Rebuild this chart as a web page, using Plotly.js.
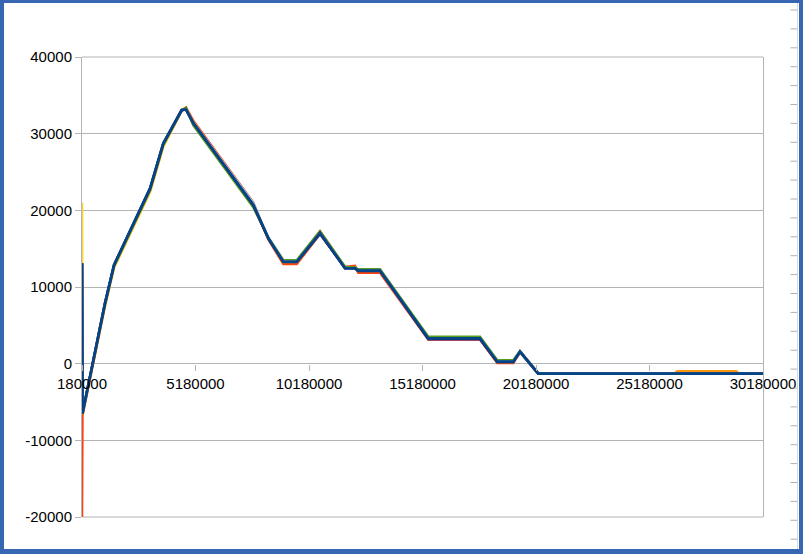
<!DOCTYPE html>
<html>
<head>
<meta charset="utf-8">
<script src="https://cdn.plot.ly/plotly-3.0.1.min.js"></script>
<style>
  html, body { margin: 0; padding: 0; background: #fff; }
  #wrap { position: relative; width: 803px; height: 554px; overflow: hidden; }
  #chart { position: absolute; left: 0; top: 0; width: 803px; height: 554px; }
  #frame { position: absolute; left: 0; top: 0; width: 803px; height: 554px; box-sizing: border-box;
           border-style: solid; border-color: #3767b3; border-width: 3px 4px 5px 4px; pointer-events: none; }
</style>
</head>
<body>
<div id="wrap"><div id="chart"></div><div id="frame"></div></div>
<script>
// ---- data ----
const xVals = [180000, 200000, 1193000, 1590000, 3180000, 3760000, 4570000, 4760000, 5080000,
  7726000, 8390000, 9050000, 9640000, 10665000, 11766000, 12206000, 12350000, 13308000,
  15435000, 17713000, 18475000, 19180000, 19475000, 20280000, 26300000, 26400000, 29000000,
  29100000, 30180000];

const redY = [-20000, -6800, 7600, 12600, 22600, 28400, 33000, 33400, 31700, 21000, 16200, 13000,
  13000, 16900, 12600, 12750, 11850, 11850, 3150, 3150, 100, 100, 1500, -1300, -1300, -1300, -1300, -1300, -1300];
const orangeY = [13100, -6600, 7800, 12800, 22800, 28700, 33100, 33300, 31500, 20800, 16300, 13200,
  13200, 17000, 12500, 12550, 12050, 12050, 3250, 3250, 200, 200, 1550, -1250, -1250, -1000, -1000, -1250, -1250];
const yellowY = [21000, -6600, 7500, 12500, 22400, 28300, 33000, 33200, 31300, 20600, 16300, 13300,
  13300, 17100, 12500, 12450, 12150, 12150, 3300, 3300, 250, 250, 1550, -1300, -1300, -1300, -1300, -1300, -1300];
const greenY = [13000, -6600, 7700, 12700, 22600, 28500, 33000, 33400, 31100, 20400, 16450, 13500,
  13500, 17300, 12650, 12550, 12300, 12300, 3500, 3500, 450, 450, 1650, -1300, -1300, -1300, -1300, -1300, -1300];
const maroonY = [13100, -6500, 7900, 12850, 22850, 28700, 33100, 33200, 31400, 20700, 16300, 13250,
  13250, 17100, 12450, 12450, 12100, 12100, 3300, 3300, 250, 250, 1560, -1300, -1300, -1300, -1300, -1300, -1300];
const lightBlueY = [13100, -6500, 7900, 12870, 22900, 28750, 33100, 33150, 31450, 20950, 16400, 13300,
  13300, 17000, 12450, 12450, 12130, 12130, 3300, 3300, 260, 260, 1570, -1300, -1300, -1300, -1300, -1300, -1300];
const purpleY = [13100, -6500, 7850, 12850, 22850, 28700, 33050, 33150, 31400, 20700, 16350, 13250,
  13250, 16950, 12450, 12450, 12100, 12100, 3200, 3200, 200, 200, 1550, -1300, -1300, -1300, -1300, -1300, -1300];
const navyY = [13100, -6500, 7900, 12870, 22900, 28750, 33100, 33150, 31400, 20700, 16350, 13300,
  13300, 17000, 12450, 12450, 12130, 12130, 3300, 3300, 260, 260, 1570, -1300, -1300, -1300, -1300, -1300, -1300];

const yTickVals = [-20000, -10000, 0, 10000, 20000, 30000, 40000];
const yTickLabels = ["-20000", "-10000", "0", "10000", "20000", "30000", "40000"];
const xTickVals = [180000, 5180000, 10180000, 15180000, 20180000, 25180000, 30180000];
const xTickLabels = ["180000", "5180000", "10180000", "15180000", "20180000", "25180000", "30180000"];

const seriesList = [
  {name: "Series 2", y: redY, color: "#ff420e", width: 2.5},
  {name: "Series 10", y: orangeY, color: "#ff950e", width: 2.5},
  {name: "Series 3", y: yellowY, color: "#ffd320", width: 2.5},
  {name: "Series 4", y: greenY, color: "#579d1c", width: 2.5},
  {name: "Series 5", y: maroonY, color: "#7e0021", width: 2.5},
  {name: "Series 6", y: lightBlueY, color: "#83caff", width: 2.5},
  {name: "Series 9", y: purpleY, color: "#4b1f6f", width: 2.5},
  {name: "Series 1", y: navyY, color: "#004586", width: 2.6}
];

const traces = seriesList.map(s => ({
  type: "scatter", mode: "lines", name: s.name, x: xVals, y: s.y,
  line: {color: s.color, width: s.width}, hoverinfo: "skip"
}));

// ---- layout ----
const W = 803, H = 554, L = 82, R = 40, T = 57, B = 37;
const pw = W - L - R, ph = H - T - B;
const px2paperX = px => (px - L) / pw;
const px2paperY = py => (H - B - py) / ph;

const grey = "#b3b3b3";
const shapes = [];
// right-hand ruler decoration
shapes.push({type: "line", xref: "paper", yref: "paper", x0: px2paperX(797.5), x1: px2paperX(797.5),
  y0: px2paperY(3), y1: px2paperY(549), line: {color: "#d9d9d9", width: 1}});
for (let py = 10; py < 548; py += 18.9) {
  shapes.push({type: "line", xref: "paper", yref: "paper", x0: px2paperX(790.5), x1: px2paperX(797),
    y0: px2paperY(py), y1: px2paperY(py), line: {color: "#b0b0b0", width: 1}});
}
// top and bottom plot borders
shapes.push({type: "line", xref: "paper", yref: "paper", x0: 0, x1: 1, y0: 1, y1: 1, line: {color: grey, width: 1}, layer: "below"});
shapes.push({type: "line", xref: "paper", yref: "paper", x0: 0, x1: 1, y0: 0, y1: 0, line: {color: grey, width: 1}, layer: "below"});

const font = {family: "Liberation Sans, Arial, sans-serif", size: 15, color: "#000"};

const layout = {
  width: W, height: H,
  margin: {l: L, r: R, t: T, b: B, pad: 0},
  paper_bgcolor: "#fff", plot_bgcolor: "#fff",
  showlegend: false,
  font: font,
  xaxis: {
    range: [180000, 30180000], tickmode: "array", tickvals: xTickVals, ticktext: xTickLabels,
    showgrid: false, zeroline: false, showline: false,
    ticks: "outside", ticklen: 6, tickcolor: grey, tickwidth: 1,
    anchor: "free", position: 1/3, automargin: false, tickfont: font
  },
  yaxis: {
    range: [-20000, 40000], tickmode: "array", tickvals: yTickVals, ticktext: yTickLabels,
    showgrid: true, gridcolor: grey, gridwidth: 1,
    zeroline: true, zerolinecolor: grey, zerolinewidth: 1,
    showline: true, linecolor: grey, linewidth: 1, mirror: true,
    ticks: "outside", ticklen: 6, tickcolor: grey, tickwidth: 1,
    automargin: false, tickfont: font
  },
  shapes: shapes
};

Plotly.newPlot("chart", traces, layout, {displayModeBar: false, staticPlot: true});
</script>
</body>
</html>
